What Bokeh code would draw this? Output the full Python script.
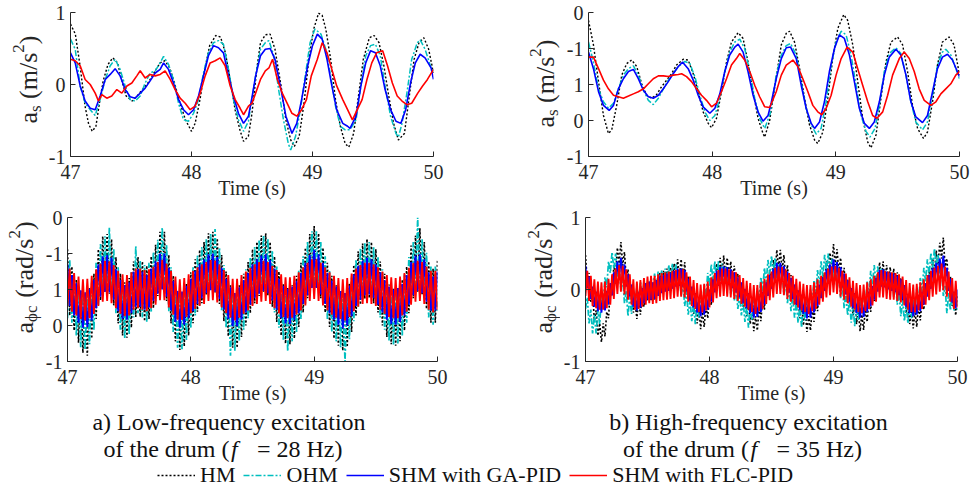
from math import pi
import numpy as np
from bokeh.plotting import figure
from bokeh.models import Range1d, FixedTicker, Legend, LegendItem
from bokeh.core.properties import value
from bokeh.layouts import column, row
from bokeh.embed import file_html
from bokeh.resources import INLINE

# ---------------- data ----------------
X_TICKS = [47, 48, 49, 50]
Y_TICKS_3 = [-1, 0, 1]
Y_LABELS_3 = ["-1", "0", "1"]
Y_TICKS_5 = [-1, -0.5, 0, 0.5, 1]
Y_LABELS_5 = ["-1", "0", "1", "-1", "0"]
SERIES = ["HM", "OHM", "SHM with GA-PID", "SHM with FLC-PID"]

# a) top: a_s, low-frequency excitation
TL_HM_T = [47.00,47.04,47.08,47.12,47.15,47.18,47.21,47.24,47.27,47.31,47.35,47.39,47.42,47.46,47.51,47.55,47.59,47.64,47.70,47.74,
           47.78,47.82,47.86,47.90,47.95,48.00,48.03,48.07,48.11,48.15,48.20,48.24,48.28,48.32,48.36,48.40,48.43,48.47,48.50,48.54,
           48.57,48.61,48.65,48.69,48.74,48.78,48.82,48.85,48.89,48.93,48.97,49.01,49.05,49.08,49.11,49.15,49.19,49.23,49.27,49.30,
           49.34,49.38,49.42,49.47,49.51,49.55,49.59,49.63,49.67,49.71,49.76,49.80,49.84,49.88,49.92,49.96,50.00]
TL_HM_V = [0.84,0.70,0.25,-0.30,-0.55,-0.65,-0.58,-0.25,0.05,0.28,0.37,0.30,0.08,-0.16,-0.23,-0.16,-0.08,0.02,0.19,0.30,
           0.33,0.23,0.02,-0.23,-0.49,-0.65,-0.54,-0.21,0.21,0.54,0.68,0.66,0.44,0.07,-0.35,-0.63,-0.79,-0.72,-0.40,0.22,
           0.58,0.69,0.70,0.49,-0.02,-0.49,-0.77,-0.86,-0.72,-0.26,0.35,0.77,0.99,0.96,0.77,0.35,-0.21,-0.58,-0.82,-0.87,
           -0.68,-0.16,0.35,0.65,0.68,0.58,0.26,-0.16,-0.54,-0.77,-0.68,-0.16,0.35,0.58,0.65,0.49,0.16]
TL_OHM_T = [47.000,47.039,47.080,47.121,47.163,47.204,47.245,47.287,47.328,47.369,47.410,47.452,47.493,47.534,47.576,47.617,47.658,47.700,47.741,47.769,
            47.810,47.851,47.893,47.934,47.975,48.017,48.058,48.099,48.140,48.182,48.223,48.264,48.306,48.347,48.388,48.430,48.471,
            48.49,48.53,48.57,48.61,48.64,48.68,48.72,48.76,48.80,48.82,48.86,48.90,48.94,48.98,49.02,49.07,49.11,49.15,49.19,49.23,
            49.27,49.31,49.36,49.40,49.44,49.48,49.52,49.56,49.60,49.645,49.69,49.71,49.74,49.78,49.82,49.866,49.89,49.93,49.98,50.00]
TL_OHM_V = [0.63,0.49,-0.02,-0.26,-0.35,-0.43,-0.21,0.07,0.26,0.35,0.21,-0.02,-0.21,-0.23,-0.16,0.02,0.16,0.19,0.30,0.39,
            0.28,0.07,-0.26,-0.49,-0.51,-0.40,-0.21,0.16,0.44,0.58,0.61,0.56,0.21,-0.21,-0.49,-0.65,-0.51,
            -0.30,0.12,0.49,0.58,0.61,0.40,-0.07,-0.49,-0.82,-0.91,-0.72,-0.35,0.12,0.58,0.77,0.70,0.49,0.12,-0.30,-0.58,
            -0.63,-0.63,-0.49,-0.02,0.40,0.54,0.56,0.40,-0.02,-0.44,-0.68,-0.73,-0.54,-0.12,0.35,0.58,0.62,0.49,0.23,0.19]
TL_GA_T = [47.000,47.039,47.080,47.121,47.163,47.204,47.245,47.287,47.328,47.369,47.410,47.452,47.493,47.534,47.576,47.617,47.658,47.700,47.741,47.769,
           47.810,47.851,47.893,47.934,47.975,48.017,48.058,48.099,48.140,48.182,48.223,48.264,48.306,48.347,48.388,48.430,48.471,
           48.50,48.53,48.57,48.61,48.65,48.69,48.74,48.78,48.82,48.83,48.87,48.91,48.96,49.00,49.04,49.08,49.12,49.16,49.20,49.25,
           49.29,49.31,49.36,49.40,49.44,49.48,49.52,49.56,49.60,49.645,49.69,49.73,49.77,49.81,49.85,49.89,49.93,49.98,50.00]
TL_GA_V = [0.44,0.30,-0.02,-0.23,-0.33,-0.35,-0.16,0.07,0.14,0.22,0.12,-0.07,-0.17,-0.19,-0.12,-0.05,0.05,0.16,0.21,0.30,
           0.21,0.02,-0.21,-0.35,-0.42,-0.35,-0.16,0.12,0.40,0.54,0.51,0.44,0.12,-0.16,-0.40,-0.54,-0.44,
           -0.18,0.12,0.40,0.49,0.50,0.35,-0.07,-0.44,-0.63,-0.68,-0.54,-0.21,0.26,0.54,0.70,0.63,0.35,-0.02,-0.35,-0.54,
           -0.58,-0.61,-0.44,-0.02,0.30,0.47,0.44,0.26,-0.07,-0.35,-0.51,-0.54,-0.35,0.02,0.30,0.42,0.37,0.23,0.07]
TL_FLC_T = [47.000,47.039,47.080,47.121,47.163,47.204,47.231,47.259,47.300,47.341,47.383,47.424,47.466,47.507,47.548,47.576,47.617,47.658,47.700,47.741,
            47.782,47.824,47.865,47.906,47.948,47.989,48.030,48.072,48.113,48.154,48.196,48.237,48.278,48.320,48.361,48.402,48.430,48.471,
            48.50,48.53,48.57,48.61,48.64,48.67,48.71,48.75,48.79,48.83,48.87,48.91,48.95,48.99,49.04,49.08,49.12,49.16,49.20,49.25,
            49.29,49.33,49.37,49.41,49.45,49.49,49.53,49.58,49.62,49.66,49.70,49.74,49.78,49.82,49.87,49.91,49.95,50.00]
TL_FLC_V = [0.35,0.33,0.26,0.07,0.00,-0.12,-0.23,-0.14,-0.19,-0.16,-0.07,-0.12,-0.02,0.02,0.12,0.19,0.09,0.14,0.12,0.14,
            0.19,0.07,-0.07,-0.19,-0.26,-0.35,-0.30,-0.12,0.12,0.30,0.33,0.37,0.26,-0.02,-0.21,-0.33,-0.42,-0.30,
            -0.26,-0.12,0.07,0.19,0.23,0.35,0.07,-0.12,-0.26,-0.40,-0.44,-0.35,-0.21,0.12,0.35,0.58,0.44,0.21,-0.02,-0.21,
            -0.35,-0.49,-0.35,-0.21,0.07,0.30,0.44,0.47,0.26,0.02,-0.16,-0.23,-0.28,-0.26,-0.12,-0.02,0.07,0.21]

# b) top: a_s, high-frequency excitation
TR_HM_T = [47.000,47.040,47.081,47.121,47.161,47.188,47.228,47.269,47.309,47.349,47.390,47.430,47.470,47.511,47.551,47.591,47.632,47.672,47.712,47.766,
           47.806,47.847,47.887,47.927,47.968,47.995,48.035,48.075,48.116,48.156,48.210,48.250,48.290,48.331,48.371,48.411,48.425,48.465,48.518,48.559,
           48.599,48.626,48.666,48.707,48.747,48.787,48.828,48.854,48.895,48.935,48.975,49.016,49.064,49.096,49.137,49.177,49.217,49.258,49.284,49.325,
           49.365,49.405,49.446,49.500,49.540,49.580,49.620,49.661,49.709,49.741,49.782,49.822,49.862,49.916,49.956,50.000]
TR_HM_V = [0.89,0.55,0.04,-0.43,-0.68,-0.63,-0.29,0.13,0.29,0.34,0.25,0.01,-0.15,-0.19,-0.14,-0.03,0.06,0.15,0.27,0.35,
           0.34,0.15,-0.10,-0.38,-0.54,-0.60,-0.47,-0.10,0.31,0.59,0.72,0.64,0.31,-0.10,-0.47,-0.68,-0.73,-0.50,0.10,0.55,
           0.71,0.74,0.59,0.22,-0.19,-0.56,-0.77,-0.82,-0.66,-0.19,0.36,0.78,0.97,0.89,0.55,0.04,-0.47,-0.80,-0.88,-0.70,
           -0.19,0.31,0.59,0.66,0.55,0.18,-0.29,-0.61,-0.75,-0.66,-0.24,0.27,0.59,0.66,0.55,0.13]
TR_OHM_T = [47.000,47.040,47.081,47.121,47.161,47.202,47.242,47.282,47.323,47.363,47.403,47.444,47.484,47.524,47.565,47.605,47.645,47.685,47.726,47.780,
            47.820,47.860,47.901,47.941,47.981,48.022,48.062,48.102,48.142,48.183,48.223,48.263,48.304,48.344,48.384,48.425,48.470,48.518,48.559,48.599,
            48.634,48.680,48.720,48.760,48.801,48.841,48.881,48.922,48.962,49.002,49.043,49.083,49.123,49.164,49.204,49.244,49.276,49.317,49.352,49.392,
            49.432,49.486,49.526,49.567,49.607,49.647,49.701,49.741,49.782,49.822,49.862,49.889,49.930,50.000]
TR_OHM_V = [0.59,0.31,-0.06,-0.24,-0.33,-0.26,-0.06,0.13,0.22,0.26,0.13,-0.08,-0.22,-0.28,-0.19,-0.06,0.06,0.15,0.25,0.32,
            0.29,0.11,-0.15,-0.38,-0.50,-0.43,-0.19,0.18,0.45,0.59,0.63,0.50,0.18,-0.19,-0.47,-0.61,-0.40,0.13,0.41,0.54,
            0.57,0.41,0.04,-0.33,-0.56,-0.69,-0.61,-0.24,0.27,0.59,0.74,0.69,0.41,-0.01,-0.43,-0.65,-0.73,-0.61,-0.29,0.18,
            0.43,0.51,0.43,0.13,-0.24,-0.52,-0.63,-0.52,-0.15,0.27,0.45,0.49,0.41,0.08]
TR_GA_T = [47.000,47.040,47.081,47.121,47.167,47.202,47.242,47.282,47.323,47.363,47.403,47.444,47.484,47.524,47.565,47.605,47.645,47.685,47.726,47.761,
           47.806,47.847,47.887,47.927,47.981,48.022,48.062,48.102,48.142,48.183,48.210,48.250,48.290,48.331,48.371,48.411,48.452,48.478,48.518,48.559,
           48.599,48.634,48.680,48.720,48.760,48.801,48.828,48.868,48.908,48.948,48.989,49.029,49.069,49.110,49.150,49.190,49.231,49.271,49.311,49.352,
           49.392,49.432,49.486,49.526,49.567,49.607,49.647,49.701,49.741,49.782,49.822,49.862,49.903,49.943,50.000]
TR_GA_V = [0.45,0.22,-0.10,-0.29,-0.36,-0.29,-0.06,0.08,0.18,0.21,0.08,-0.08,-0.17,-0.19,-0.15,-0.06,0.04,0.15,0.25,0.31,
           0.22,0.06,-0.15,-0.31,-0.40,-0.33,-0.13,0.18,0.41,0.52,0.56,0.45,0.18,-0.15,-0.38,-0.51,-0.43,-0.25,0.08,0.36,
           0.51,0.52,0.36,-0.01,-0.33,-0.54,-0.61,-0.52,-0.24,0.18,0.50,0.69,0.64,0.41,0.04,-0.33,-0.54,-0.61,-0.52,-0.24,
           0.13,0.38,0.49,0.41,0.13,-0.24,-0.45,-0.53,-0.43,-0.10,0.22,0.38,0.42,0.34,0.11]
TR_FLC_T = [47.000,47.040,47.081,47.121,47.161,47.202,47.242,47.282,47.323,47.363,47.403,47.444,47.484,47.524,47.565,47.605,47.645,47.685,47.726,47.753,
            47.793,47.833,47.874,47.914,47.954,47.995,48.035,48.075,48.116,48.156,48.196,48.223,48.263,48.304,48.344,48.384,48.425,48.465,48.518,48.559,
            48.599,48.653,48.693,48.733,48.774,48.814,48.854,48.887,48.922,48.962,49.002,49.043,49.091,49.137,49.177,49.217,49.258,49.298,49.333,49.379,
            49.419,49.459,49.513,49.553,49.594,49.634,49.674,49.715,49.768,49.809,49.849,49.889,49.930,49.970,50.000]
TR_FLC_V = [0.38,0.38,0.22,0.06,-0.06,-0.15,-0.17,-0.19,-0.16,-0.13,-0.10,-0.06,0.01,0.08,0.12,0.12,0.11,0.13,0.14,0.15,
            0.11,0.04,-0.06,-0.15,-0.22,-0.31,-0.26,-0.10,0.08,0.27,0.36,0.43,0.34,0.18,-0.01,-0.17,-0.31,-0.32,-0.10,0.13,
            0.27,0.34,0.25,0.08,-0.10,-0.29,-0.38,-0.42,-0.33,-0.15,0.13,0.36,0.52,0.45,0.22,-0.01,-0.24,-0.43,-0.47,-0.38,
            -0.15,0.13,0.36,0.45,0.36,0.18,-0.06,-0.22,-0.29,-0.24,-0.13,-0.06,0.01,0.13,0.18]

# a) bottom: a_phi_c, successive extremes sampled at 2 x 28 Hz
BL_HM = [0.56,-0.36, 0.32,-0.57, 0.14,-0.74, -0.02,-0.88, -0.06,-0.92, 0.02,-0.68, 0.22,-0.41, 0.56,-0.15, 0.74,-0.04, 0.77,-0.06,
         0.70,-0.22, 0.45,-0.47, 0.22,-0.64, 0.10,-0.67, 0.16,-0.53, 0.39,-0.38, 0.45,-0.38, 0.39,-0.44, 0.33,-0.41, 0.46,-0.26,
         0.62,-0.09, 0.80,0.00, 0.80,-0.16, 0.48,-0.47, 0.19,-0.72, -0.03,-0.84, -0.05,-0.79, 0.08,-0.64, 0.24,-0.47, 0.42,-0.31,
         0.55,-0.19, 0.66,-0.08, 0.78,-0.01, 0.80,-0.04, 0.71,-0.20, 0.48,-0.44, 0.25,-0.65, 0.06,-0.81, -0.07,-0.81, 0.06,-0.66,
         0.22,-0.50, 0.38,-0.33, 0.56,-0.19, 0.66,-0.09, 0.75,-0.03, 0.78,-0.08, 0.66,-0.24, 0.46,-0.45, 0.25,-0.64, 0.08,-0.75,
         0.02,-0.76, 0.06,-0.68, 0.19,-0.52, 0.37,-0.32, 0.58,-0.12, 0.77,0.03, 0.88,0.03, 0.78,-0.12, 0.58,-0.32, 0.37,-0.52,
         0.19,-0.68, 0.06,-0.78, -0.02,-0.85, -0.08,-0.80, 0.09,-0.59, 0.34,-0.36, 0.53,-0.21, 0.64,-0.13, 0.70,-0.12, 0.66,-0.19,
         0.56,-0.32, 0.39,-0.50, 0.22,-0.66, 0.07,-0.76, 0.01,-0.78, 0.03,-0.72, 0.14,-0.57, 0.32,-0.33, 0.61,-0.12, 0.75,-0.03,
         0.85,-0.08, 0.66,-0.27, 0.39,-0.46, 0.29,-0.46, 0.40]
BL_OHM = [-0.40,0.42, -0.46,0.21, -0.64,0.04, -0.80,-0.06, -0.84,-0.04, -0.76,0.10, -0.56,0.37, -0.22,0.63, -0.04,0.74, -0.01,0.86,
          -0.08,0.56, -0.33,0.31, -0.56,0.14, -0.68,0.11, -0.62,0.25, -0.39,0.60, -0.33,0.40, -0.39,0.34, -0.45,0.37, -0.32,0.52,
          -0.16,0.69, 0.02,0.86, 0.02,0.62, -0.30,0.31, -0.59,0.06, -0.81,-0.06, -0.83,-0.01, -0.70,0.14, -0.54,0.31, -0.36,0.47,
          -0.23,0.59, -0.12,0.70, 0.00,0.77, 0.02,0.84, -0.07,0.58, -0.30,0.34, -0.53,0.13, -0.92,-0.03, -0.85,-0.03, -0.72,0.12,
          -0.56,0.28, -0.40,0.45, -0.22,0.59, -0.12,0.69, -0.03,0.75, 0.00,0.70, -0.12,0.54, -0.32,0.33, -0.53,0.14, -0.70,0.03,
          -0.86,0.02, -0.72,0.10, -0.59,0.26, -0.41,0.46, -0.20,0.66, -0.01,0.81, 0.10,0.81, 0.00,0.66, -0.20,0.46, -0.41,0.26,
          -0.59,0.10, -0.72,0.00, -0.80,-0.07, -1.00,-0.02, -0.69,0.19, -0.44,0.42, -0.25,0.57, -0.14,0.65, -0.08,0.66, -0.12,0.59,
          -0.22,0.46, -0.39,0.28, -0.56,0.12, -0.71,0.02, -0.77,0.00, -0.75,0.06, -0.64,0.21, -0.46,0.45, -0.17,0.66, -0.03,1.00,
          0.00,0.70, -0.12,0.51, -0.39,0.32, -0.49,0.32, -0.30]
BL_GA = [0.35,-0.23, 0.20,-0.36, 0.09,-0.46, -0.01,-0.53, -0.04,-0.52, 0.01,-0.43, 0.13,-0.26, 0.35,-0.10, 0.46,-0.03, 0.48,-0.04,
         0.44,-0.14, 0.28,-0.30, 0.13,-0.41, 0.06,-0.42, 0.10,-0.33, 0.25,-0.24, 0.28,-0.24, 0.25,-0.28, 0.20,-0.25, 0.29,-0.16,
         0.39,-0.06, 0.50,0.00, 0.50,-0.10, 0.30,-0.29, 0.12,-0.45, -0.02,-0.53, -0.03,-0.49, 0.05,-0.40, 0.15,-0.30, 0.26,-0.20,
         0.35,-0.12, 0.42,-0.05, 0.49,-0.01, 0.50,-0.03, 0.45,-0.13, 0.30,-0.28, 0.15,-0.41, 0.03,-0.51, -0.05,-0.51, 0.03,-0.42,
         0.13,-0.32, 0.23,-0.21, 0.35,-0.12, 0.42,-0.06, 0.47,-0.02, 0.49,-0.05, 0.41,-0.15, 0.29,-0.28, 0.15,-0.40, 0.05,-0.47,
         0.01,-0.48, 0.04,-0.42, 0.12,-0.33, 0.23,-0.20, 0.37,-0.08, 0.48,0.02, 0.55,0.02, 0.49,-0.07, 0.37,-0.20, 0.23,-0.33,
         0.12,-0.42, 0.04,-0.49, -0.02,-0.54, -0.05,-0.50, 0.05,-0.37, 0.21,-0.23, 0.33,-0.14, 0.40,-0.08, 0.44,-0.07, 0.42,-0.12,
         0.35,-0.21, 0.24,-0.32, 0.13,-0.42, 0.04,-0.48, 0.00,-0.49, 0.02,-0.45, 0.08,-0.36, 0.20,-0.21, 0.38,-0.08, 0.47,-0.02,
         0.49,-0.05, 0.42,-0.17, 0.24,-0.29, 0.18,-0.29, 0.25]
BL_FLC = [-0.23,0.29, -0.31,0.23, -0.36,0.18, -0.41,0.14, -0.43,0.15, -0.40,0.19, -0.34,0.28, -0.23,0.36, -0.17,0.40, -0.16,0.39,
          -0.19,0.34, -0.26,0.26, -0.34,0.21, -0.37,0.20, -0.36,0.24, -0.28,0.29, -0.26,0.29, -0.28,0.27, -0.30,0.28, -0.26,0.32,
          -0.21,0.38, -0.15,0.41, -0.15,0.36, -0.25,0.26, -0.35,0.18, -0.42,0.14, -0.42,0.16, -0.38,0.21, -0.33,0.26, -0.27,0.31,
          -0.23,0.35, -0.20,0.38, -0.16,0.41, -0.15,0.40, -0.18,0.35, -0.25,0.27, -0.33,0.20, -0.39,0.15, -0.43,0.15, -0.39,0.20,
          -0.34,0.25, -0.29,0.30, -0.23,0.35, -0.20,0.38, -0.17,0.40, -0.16,0.38, -0.20,0.33, -0.26,0.27, -0.33,0.21, -0.38,0.17,
          -0.40,0.17, -0.39,0.19, -0.35,0.24, -0.29,0.31, -0.22,0.37, -0.16,0.42, -0.13,0.42, -0.16,0.37, -0.22,0.31, -0.29,0.24,
          -0.35,0.19, -0.39,0.16, -0.41,0.14, -0.43,0.16, -0.38,0.22, -0.30,0.29, -0.24,0.34, -0.20,0.37, -0.19,0.37, -0.20,0.35,
          -0.23,0.31, -0.28,0.25, -0.34,0.20, -0.38,0.17, -0.40,0.16, -0.40,0.18, -0.36,0.23, -0.31,0.30, -0.21,0.37, -0.17,0.40,
          -0.16,0.38, -0.20,0.32, -0.28,0.26, -0.32,0.26, -0.28]

# b) bottom: a_phi_c, successive extremes sampled at 2 x 35 Hz
BR_HM = [0.48,0.10, 0.23,-0.17, -0.04,-0.43, -0.29,-0.64, -0.47,-0.73, -0.47,-0.65, -0.31,-0.40, 0.03,-0.08, 0.33,0.20, 0.58,0.36,
         0.66,0.33, 0.52,0.14, 0.28,-0.10, 0.05,-0.32, -0.17,-0.41, -0.13,-0.35, -0.04,-0.24, 0.08,-0.16, 0.12,-0.16, 0.09,-0.15,
         0.14,-0.08, 0.23,-0.02, 0.26,0.02, 0.29,0.04, 0.31,0.08, 0.36,0.13, 0.42,0.16, 0.42,0.14, 0.38,0.02, 0.18,-0.17,
         0.00,-0.34, -0.15,-0.47, -0.26,-0.55, -0.31,-0.52, -0.20,-0.40, -0.07,-0.22, 0.16,0.00, 0.36,0.14, 0.44,0.20, 0.47,0.20,
         0.44,0.16, 0.39,0.10, 0.33,0.02, 0.22,-0.11, 0.09,-0.24, -0.05,-0.37, -0.16,-0.48, -0.27,-0.58, -0.37,-0.57, -0.24,-0.44,
         -0.12,-0.28, 0.09,-0.08, 0.27,0.08, 0.41,0.22, 0.55,0.29, 0.55,0.26, 0.48,0.15, 0.34,0.01, 0.20,-0.14, 0.05,-0.28,
         -0.08,-0.40, -0.19,-0.50, -0.28,-0.59, -0.37,-0.57, -0.25,-0.45, -0.13,-0.30, 0.05,-0.13, 0.21,0.04, 0.39,0.19, 0.51,0.31,
         0.63,0.34, 0.56,0.24, 0.44,0.11, 0.30,-0.04, 0.14,-0.21, -0.03,-0.36, -0.16,-0.48, -0.28,-0.58, -0.35,-0.56, -0.25,-0.45,
         -0.12,-0.31, 0.02,-0.16, 0.19,0.03, 0.38,0.13, 0.39,0.11, 0.34,0.07, 0.31,0.04, 0.29,0.01, 0.24,-0.06, 0.16,-0.17,
         0.03,-0.33, -0.17,-0.48, -0.26,-0.54, -0.30,-0.52, -0.21,-0.43, -0.12,-0.28, 0.08,-0.09, 0.26,0.09, 0.43,0.23, 0.54,0.34,
         0.65,0.43, 0.72,0.32, 0.43,0.05, 0.18,-0.23, -0.12,-0.36, -0.07]
BR_OHM = [-0.27,-0.11, -0.47,-0.28, -0.61,-0.35, -0.61,-0.29, -0.48,-0.09, -0.21,0.17, 0.03,0.39, 0.23,0.52, 0.29,0.50, 0.18,0.35,
          -0.01,0.16, -0.19,-0.02, -0.37,-0.10, -0.34,-0.05, -0.27,0.04, -0.17,0.11, -0.14,0.11, -0.16,0.12, -0.12,0.18, -0.05,0.22,
          -0.03,0.25, 0.00,0.27, 0.01,0.29, 0.05,0.34, 0.10,0.36, 0.10,0.35, 0.07,0.25, -0.09,0.10, -0.23,-0.03, -0.35,-0.14,
          -0.44,-0.20, -0.48,-0.18, -0.39,-0.08, -0.29,0.06, -0.11,0.23, 0.05,0.35, 0.12,0.39, 0.14,0.39, 0.12,0.36, 0.08,0.32,
          0.03,0.25, -0.06,0.15, -0.16,0.05, -0.27,-0.06, -0.36,-0.15, -0.45,-0.23, -0.53,-0.22, -0.43,-0.12, -0.33,0.02, -0.16,0.17,
          -0.02,0.30, 0.09,0.41, 0.21,0.47, 0.21,0.44, 0.15,0.36, 0.04,0.25, -0.07,0.13, -0.19,0.02, -0.30,-0.09, -0.39,-0.17,
          -0.46,-0.24, -0.53,-0.22, -0.43,-0.13, -0.34,0.00, -0.19,0.13, -0.07,0.27, 0.08,0.39, 0.17,0.48, 0.27,0.50, 0.21,0.43,
          0.12,0.33, 0.01,0.21, -0.12,0.07, -0.26,-0.05, -0.36,-0.15, -0.46,-0.23, -0.51,-0.21, -0.43,-0.12, -0.33,-0.02, -0.22,0.11,
          -0.08,0.26, 0.07,0.34, 0.08,0.32, 0.04,0.29, 0.01,0.27, 0.00,0.24, -0.04,0.19, -0.11,0.10, -0.21,-0.03, -0.37,-0.15,
          -0.44,-0.20, -0.47,-0.18, -0.40,-0.11, -0.33,0.01, -0.17,0.16, -0.03,0.30, 0.11,0.42, 0.20,0.51, 0.29,0.57, 0.34,0.49,
          0.11,0.27, -0.09,0.05, -0.33,-0.05, -0.29,-0.03, -0.29,-0.03, -0.29]
BR_GA = [0.33,0.02, 0.18,-0.13, 0.04,-0.24, -0.03,-0.30, -0.08,-0.32, -0.08,-0.29, -0.02,-0.21, 0.09,-0.08, 0.24,0.08, 0.39,0.18,
         0.44,0.16, 0.35,0.04, 0.21,-0.10, 0.07,-0.24, -0.06,-0.29, -0.04,-0.25, 0.02,-0.19, 0.09,-0.14, 0.11,-0.14, 0.10,-0.13,
         0.13,-0.09, 0.18,-0.05, 0.20,-0.03, 0.22,-0.02, 0.23,0.01, 0.26,0.04, 0.29,0.05, 0.29,0.04, 0.27,-0.03, 0.15,-0.15,
         0.04,-0.25, -0.05,-0.32, -0.11,-0.37, -0.14,-0.35, -0.08,-0.28, 0.00,-0.17, 0.14,-0.04, 0.26,0.05, 0.31,0.08, 0.32,0.08,
         0.31,0.06, 0.28,0.02, 0.24,-0.04, 0.17,-0.11, 0.10,-0.19, 0.01,-0.26, -0.05,-0.33, -0.12,-0.39, -0.18,-0.38, -0.10,-0.31,
         -0.03,-0.21, 0.10,-0.09, 0.20,0.01, 0.29,0.09, 0.37,0.13, 0.37,0.11, 0.33,0.05, 0.25,-0.04, 0.16,-0.13, 0.07,-0.21,
         -0.01,-0.28, -0.07,-0.34, -0.13,-0.40, -0.18,-0.39, -0.11,-0.32, -0.04,-0.23, 0.07,-0.12, 0.17,-0.02, 0.28,0.08, 0.35,0.15,
         0.42,0.16, 0.38,0.11, 0.31,0.03, 0.22,-0.07, 0.13,-0.17, 0.02,-0.26, -0.05,-0.33, -0.13,-0.39, -0.17,-0.38, -0.11,-0.31,
         -0.03,-0.23, 0.05,-0.14, 0.16,-0.03, 0.27,0.04, 0.28,0.03, 0.25,0.00, 0.23,-0.02, 0.22,-0.04, 0.19,-0.08, 0.14,-0.14,
         0.06,-0.24, -0.06,-0.33, -0.11,-0.37, -0.14,-0.35, -0.08,-0.30, -0.03,-0.21, 0.09,-0.10, 0.20,0.01, 0.30,0.10, 0.37,0.16,
         0.43,0.21, 0.47,0.15, 0.30,-0.02, 0.15,-0.18, -0.03,-0.26, 0.00]
BR_FLC = [-0.09,0.26, -0.16,0.19, -0.23,0.14, -0.26,0.11, -0.28,0.10, -0.28,0.11, -0.26,0.15, -0.21,0.21, -0.13,0.29, -0.06,0.34,
          -0.03,0.33, -0.07,0.28, -0.14,0.21, -0.21,0.14, -0.28,0.11, -0.27,0.13, -0.24,0.16, -0.21,0.18, -0.19,0.19, -0.20,0.19,
          -0.19,0.21, -0.16,0.23, -0.15,0.24, -0.14,0.25, -0.13,0.26, -0.12,0.27, -0.10,0.28, -0.10,0.28, -0.11,0.24, -0.17,0.18,
          -0.23,0.13, -0.27,0.09, -0.31,0.07, -0.32,0.08, -0.29,0.11, -0.25,0.17, -0.18,0.23, -0.12,0.27, -0.10,0.29, -0.09,0.29,
          -0.10,0.28, -0.11,0.26, -0.13,0.24, -0.16,0.20, -0.20,0.16, -0.24,0.12, -0.28,0.09, -0.31,0.06, -0.34,0.06, -0.30,0.10,
          -0.27,0.15, -0.20,0.21, -0.15,0.25, -0.11,0.30, -0.06,0.32, -0.06,0.31, -0.08,0.28, -0.13,0.23, -0.17,0.19, -0.21,0.15,
          -0.25,0.11, -0.29,0.08, -0.31,0.06, -0.34,0.06, -0.30,0.10, -0.27,0.14, -0.21,0.19, -0.17,0.24, -0.11,0.29, -0.08,0.32,
          -0.04,0.33, -0.06,0.30, -0.10,0.26, -0.14,0.22, -0.19,0.17, -0.24,0.12, -0.28,0.09, -0.31,0.06, -0.33,0.07, -0.30,0.10,
          -0.27,0.14, -0.22,0.19, -0.17,0.24, -0.11,0.27, -0.11,0.26, -0.13,0.25, -0.14,0.24, -0.14,0.23, -0.16,0.21, -0.18,0.18,
          -0.22,0.13, -0.28,0.09, -0.31,0.07, -0.32,0.08, -0.29,0.10, -0.27,0.14, -0.21,0.20, -0.15,0.26, -0.10,0.30, -0.07,0.33,
          -0.03,0.36, -0.01,0.32, -0.10,0.25, -0.17,0.16, -0.27,0.12, -0.25]

# ---------------- styling ----------------
FONT = "Liberation Serif"
INK = "#262626"
STYLE = {
    "HM": dict(line_color="#000000", line_width=1.4, line_dash="2 2"),
    "OHM": dict(line_color="#00BFBF", line_width=1.5, line_dash="6 2 2 2"),
    "SHM with GA-PID": dict(line_color="#0000FF", line_width=1.6),
    "SHM with FLC-PID": dict(line_color="#FF0000", line_width=1.6),
}
ROW1_H = 205
ROW2_H = 204
FOOT_H = 83
PAGE_H = ROW1_H + ROW2_H + FOOT_H
MID = 0.34  # distance (em) from the alphabetic baseline up to the em-box middle


def panel(w, h, left, right, top, bottom, yticks, ylabels):
    p = figure(width=w, height=h, x_range=Range1d(47, 50), y_range=Range1d(-1, 1),
               output_backend="svg", toolbar_location=None, title=None,
               min_border_left=left, min_border_right=right,
               min_border_top=top, min_border_bottom=bottom)
    p.frame_align = False
    p.outline_line_color = None
    p.xgrid.visible = False
    p.ygrid.visible = False
    p.xaxis.ticker = FixedTicker(ticks=X_TICKS)
    p.xaxis.major_label_overrides = {t: str(t) for t in X_TICKS}
    p.yaxis.ticker = FixedTicker(ticks=yticks)
    p.yaxis.major_label_overrides = dict(zip(yticks, ylabels))
    for ax in (p.xaxis, p.yaxis):
        ax.axis_line_color = INK
        ax.major_tick_line_color = INK
        ax.major_tick_in = 5
        ax.major_tick_out = 0
        ax.minor_tick_line_color = None
        ax.major_label_text_font = FONT
        ax.major_label_text_font_size = "20px"
        ax.major_label_text_color = INK
    p.xaxis.major_label_standoff = 8
    p.yaxis.major_label_standoff = 5
    p.xaxis.axis_label = "Time (s)"
    p.xaxis.axis_label_text_font = FONT
    p.xaxis.axis_label_text_font_size = "20px"
    p.xaxis.axis_label_text_font_style = "normal"
    p.xaxis.axis_label_text_color = INK
    p.xaxis.axis_label_standoff = -5
    return p


def blank(w, h):
    p = figure(width=w, height=h, x_range=Range1d(0, w), y_range=Range1d(0, h),
               output_backend="svg", toolbar_location=None, title=None, min_border=0,
               x_axis_location=None, y_axis_location=None)
    p.frame_align = False
    p.outline_line_color = None
    p.xgrid.visible = False
    p.ygrid.visible = False
    return p


def put_text(p, x, y, s, size, rotated=False, align="left", style="normal", color=INK):
    # (x, y) is the start of the alphabetic baseline; the glyph is anchored at the em-box middle
    d = MID * size
    if rotated:
        ax, ay, ang = x - d, y, pi / 2
    else:
        ax, ay, ang = x, y + d, 0.0
    p.text(x=[ax], y=[ay], text=[s], angle=ang, text_font=value(FONT),
           text_font_size=value(f"{size}px"), text_font_style=style,
           text_align=align, text_baseline="middle", text_color=color)


# rotated y-axis titles: (text, font px, baseline shift px, advance along text px)
AS_PARTS = [("a", 26, 0, 0), ("s", 17, 4, 11.5), ("(m/s", 26, 0, 24.6), ("2", 17, -13, 70.8), (")", 26, 0, 79.3)]
AP_PARTS = [("a", 26, 0, 0), ("\u03d5c", 17, 4, 11.5), ("(rad/s", 26, 0, 35.7), ("2", 17, -13, 94.9), (")", 26, 0, 103.4)]


def ylabel_fig(w, h, x0, y0, parts):
    p = blank(w, h)
    for text, size, shift, offset in parts:
        put_text(p, x0 + shift, y0 + offset, text, size, rotated=True)
    return p


def draw_series(p, pairs, width_scale=1.0):
    for name, (t, v) in zip(SERIES, pairs):
        n = min(len(t), len(v))
        st = dict(STYLE[name])
        st["line_width"] = st["line_width"] * width_scale
        p.line(list(t[:n]), list(v[:n]), **st)


def grid_time(vals):
    return np.linspace(47, 50, len(vals))


# ---- row 1 (page y 0-205) ----
yl_tl = ylabel_fig(45, ROW1_H, 37, ROW1_H - 123, AS_PARTS)
p_tl = panel(463, ROW1_H, 25, 75, 12, 49, Y_TICKS_3, Y_LABELS_3)
draw_series(p_tl, [(TL_HM_T, TL_HM_V), (TL_OHM_T, TL_OHM_V), (TL_GA_T, TL_GA_V), (TL_FLC_T, TL_FLC_V)])

yl_tr = ylabel_fig(55, ROW1_H, 46, ROW1_H - 127, AS_PARTS)
p_tr = panel(407, ROW1_H, 24, 11, 12, 49, Y_TICKS_5, Y_LABELS_5)
draw_series(p_tr, [(TR_HM_T, TR_HM_V), (TR_OHM_T, TR_OHM_V), (TR_GA_T, TR_GA_V), (TR_FLC_T, TR_FLC_V)])

# ---- row 2 (page y 205-409) ----
yl_bl = ylabel_fig(42, ROW2_H, 33, ROW1_H + ROW2_H - 333, AP_PARTS)
p_bl = panel(466, ROW2_H, 23, 71, 12, 48, Y_TICKS_5, Y_LABELS_5)
draw_series(p_bl, [(grid_time(BL_HM), BL_HM), (grid_time(BL_OHM), BL_OHM),
                   (grid_time(BL_GA), BL_GA), (grid_time(BL_FLC), BL_FLC)], 1.15)

yl_br = ylabel_fig(52, ROW2_H, 44, ROW1_H + ROW2_H - 333, AP_PARTS)
p_br = panel(410, ROW2_H, 23, 13, 12, 48, Y_TICKS_3, Y_LABELS_3)
draw_series(p_br, [(grid_time(BR_HM), BR_HM), (grid_time(BR_OHM), BR_OHM),
                   (grid_time(BR_GA), BR_GA), (grid_time(BR_FLC), BR_FLC)], 1.15)

# ---- footer: captions + legend (page y 409-492) ----
foot = blank(970, FOOT_H)
CAP = "#111111"
for cx, line1, hz in [(228.5, "a) Low-frequency excitation", "28"), (748.0, "b) High-frequency excitation", "35")]:
    put_text(foot, cx, PAGE_H - 430, line1, 24, align="center", color=CAP)
    put_text(foot, cx + 0.5, PAGE_H - 457, "of the drum (", 24, align="right", color=CAP)
    put_text(foot, cx + 2.0, PAGE_H - 457, "f", 24, align="left", style="italic", color=CAP)
    put_text(foot, cx + 28.0, PAGE_H - 457, "= " + hz + " Hz)", 24, align="left", color=CAP)

items = []
for name in SERIES:
    r = foot.line([-20, -10], [-20, -20], **STYLE[name])
    items.append(LegendItem(label=name, renderers=[r]))
legend = Legend(items=items, orientation="horizontal", location=(157, 4),
                label_text_font=FONT, label_text_font_size="22px", label_text_color=CAP,
                glyph_width=38, glyph_height=20, label_height=20, label_standoff=5, spacing=8,
                padding=0, margin=0, border_line_color=None, background_fill_alpha=0)
foot.add_layout(legend)

layout = column(row(yl_tl, p_tl, yl_tr, p_tr), row(yl_bl, p_bl, yl_br, p_br), foot)

with open("out.html", "w") as f:
    f.write(file_html(layout, INLINE))
